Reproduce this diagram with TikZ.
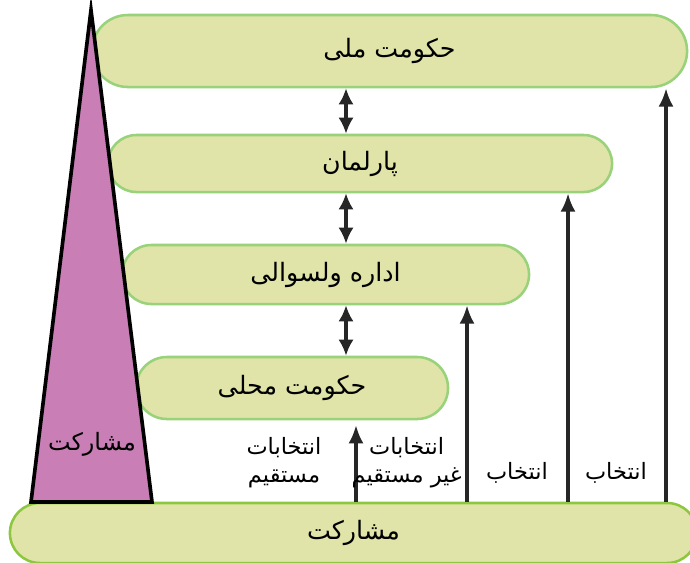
\documentclass[tikz,border=0pt]{standalone}
\usepackage{fontspec}
\newfontfamily\arabicfont[Script=Arabic]{DejaVu Sans}
\TeXXeTstate=1
\usepackage{tikz}
\usetikzlibrary{arrows.meta,shapes.misc}
\definecolor{boxfill}{HTML}{E1E4A8}
\definecolor{boxedge}{HTML}{98D27A}
\definecolor{baseedge}{HTML}{8DC63F}
\definecolor{tripink}{HTML}{C97FB5}
\newcommand{\rtl}[1]{\beginR #1\endR}

\begin{document}
\begin{tikzpicture}[x=0.025cm, y=-0.025cm,
  level/.style={draw=boxedge, line width=1.8pt, fill=boxfill, rounded rectangle, inner sep=0pt, font=\arabicfont\fontsize{18}{21}\selectfont},
  vote/.style={-{Latex[length=0.46cm,width=0.38cm]}, line width=2.4pt, black!85},
  link/.style={{Latex[length=0.4cm,width=0.38cm]}-{Latex[length=0.4cm,width=0.38cm]}, line width=2.4pt, black!85},
  lbl/.style={align=center, inner sep=0pt, font=\arabicfont\fontsize{16}{20}\selectfont}]
  \useasboundingbox (0,0) rectangle (690,562);

  \node (nat) [level, minimum width=14.875cm, minimum height=1.8cm] at (389.5,51) {\rtl{حکومت ملی}};
  \node (parl) [level, minimum width=12.6cm, minimum height=1.425cm] at (360,163.5) {\rtl{پارلمان}};
  \node (dist) [level, minimum width=10.175cm, minimum height=1.475cm] at (325.5,274.5) {\rtl{اداره ولسوالی}};
  \node (loc) [level, minimum width=7.8cm, minimum height=1.55cm] at (292,388) {\rtl{حکومت محلی}};
  \node (base) [level, draw=baseedge, minimum width=17.175cm, minimum height=1.5cm] at (353.5,533) {\rtl{مشارکت}};

  % participation pyramid
  \draw[fill=tripink, line width=2.6pt, line join=miter] (91,10) -- (152,502) -- (31,502) -- cycle;
  \node (part) [lbl, font=\arabicfont\fontsize{17}{20}\selectfont] at (92,444) {\rtl{مشارکت}};

  \coordinate (d) at (346,0);
  \coordinate (c1) at (666,0);
  \coordinate (c2) at (568,0);
  \coordinate (c3) at (467,0);
  \coordinate (c4) at (356,0);

  \draw[link] (nat.south -| d) -- (parl.north -| d);
  \draw[link] (parl.south -| d) -- (dist.north -| d);
  \draw[link] (dist.south -| d) -- (loc.north -| d);

  \draw[vote] (base.north -| c1) -- (nat.south -| c1);
  \draw[vote] (base.north -| c2) -- (parl.south -| c2);
  \draw[vote] (base.north -| c3) -- (dist.south -| c3);
  \draw[vote, shorten >=0.12cm] (base.north -| c4) -- (loc.south -| c4);

  \node (direct) [lbl] at (284,463) {\rtl{انتخابات}\\\rtl{مستقیم}};
  \node (indirect) [lbl, anchor=east] at (462,463) {\rtl{انتخابات}\\\rtl{غیر مستقیم}};
  \node (elect1) [lbl] at (517,473) {\rtl{انتخاب}};
  \node (elect2) [lbl] at (616,473) {\rtl{انتخاب}};
\end{tikzpicture}
\end{document}
